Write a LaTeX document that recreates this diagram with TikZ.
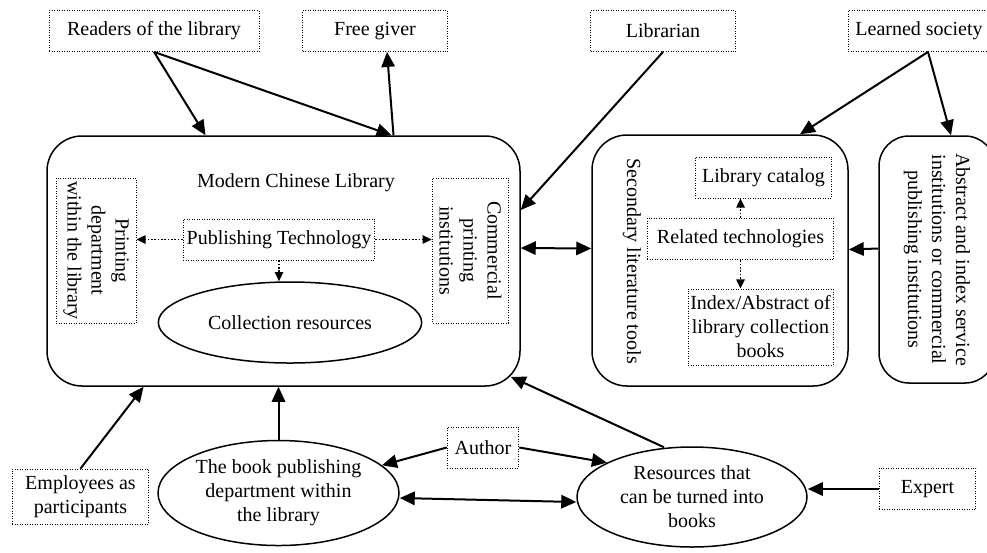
\documentclass[tikz,border=0pt]{standalone}
\usepackage{fontspec}
\setmainfont{Liberation Serif}
\usetikzlibrary{shapes.geometric,arrows.meta,calc}

\begin{document}
\begin{tikzpicture}[x=0.6pt,y=-0.6pt,
  font=\fontsize{12}{14.4}\selectfont,
  dotbox/.style={draw,densely dotted,line width=0.5pt,align=center,inner sep=1pt},
  bigbox/.style={draw,rounded corners=21pt,line width=0.9pt},
  oval/.style={draw,ellipse,line width=0.9pt,align=center,inner sep=0pt},
  arr/.style={line width=1.2pt,-{Triangle[length=9pt,width=8pt]}},
  dblarr/.style={line width=1.2pt,{Triangle[length=9pt,width=8pt]}-{Triangle[length=9pt,width=8pt]}},
  dotarr/.style={densely dotted,line width=1pt,-{Triangle[length=5.5pt,width=5pt]}}]
\useasboundingbox (0,0) rectangle (987,552);

% outside actors
\node[dotbox,minimum width=126pt,minimum height=24.6pt] (readers) at (154,31) {Readers of the library};
\node[dotbox,minimum width=87pt,minimum height=24.6pt] (giver) at (375,31) {Free giver};
\node[dotbox,minimum width=87pt,minimum height=24.6pt] (librarian) at (663,31) {Librarian};
\node[dotbox,minimum width=85pt,minimum height=24.6pt] (society) at (919,31) {Learned society};

% the library
\node[bigbox,minimum width=283.8pt,minimum height=150pt] (lib) at (283.5,261) {};
\node (libname) at (296,183) {Modern Chinese Library};
\node[dotbox,rotate=-90,minimum width=87pt,minimum height=48pt] (prt) at (96,250.5) {Printing\\department\\within the library};
\node[dotbox,rotate=-90,minimum width=87pt,minimum height=46pt] (com) at (470.5,250.5) {Commercial\\printing\\institutions};
\node[dotbox,minimum width=115pt,minimum height=24.6pt] (pub) at (279,239.5) {Publishing Technology};
\node[oval,minimum width=158pt,minimum height=48.6pt] (coll) at (290,322.5) {Collection resources};

% secondary tools
\node[bigbox,minimum width=153.6pt,minimum height=150.6pt] (sec) at (720,260.5) {};
\node[rotate=-90] (seclabel) at (632,261) {Secondary literature tools};
\node[dotbox,minimum width=82pt,minimum height=24.6pt] (cat) at (763.5,177.5) {Library catalog};
\node[dotbox,minimum width=112pt,minimum height=25pt] (rel) at (740.5,239) {Related technologies};
\node[dotbox,minimum width=87pt,minimum height=45.6pt] (idx) at (760.5,327) {Index/Abstract of\\library collection\\books};
\node[bigbox,rounded corners=18pt,rotate=-90,align=center,minimum width=148.2pt,minimum height=69.6pt] (abs) at (937,259.5) {Abstract and index service\\institutions or commercial\\publishing institutions};

% bottom row
\node[dotbox,minimum width=82pt,minimum height=33pt] (emp) at (80.5,496.5) {Employees as\\participants};
\node[oval,minimum width=144.6pt,minimum height=63pt] (book) at (278.5,493) {The book publishing\\department within\\the library};
\node[dotbox,minimum width=43pt,minimum height=24.6pt] (author) at (483,447.5) {Author};
\node[oval,minimum width=138pt,minimum height=60pt] (res) at (692,497) {Resources that\\can be turned into\\books};
\node[dotbox,minimum width=58pt,minimum height=25pt] (expert) at (927.5,489) {Expert};

\draw[arr] (readers.south) -- ($(lib.north)+(-78,0)$);
\draw[arr] (readers.south) -- ($(lib.north)+(108,0)$);
\draw[arr] ($(lib.north)+(110,0)$) -- ($(giver.south)+(12,0)$);
\draw[arr] (librarian.south) -- ($(lib.east)+(0,-51)$);
\draw[arr] ($(society.south)+(9,0)$) -- ($(sec.north)+(80,0)$);
\draw[arr] ($(society.south)+(9,0)$) -- ($(abs.west)+(14,0)$);
\draw[dblarr] ($(lib.east)+(0,-13)$) -- ($(sec.west)+(0,-12)$);
\draw[arr] ($(abs.south)+(0,-11)$) -- ($(sec.east)+(0,-11)$);
\draw[arr] (emp.north) -- ($(lib.south)+(-140,0)$);
\draw[arr] (book.north) -- (book.north |- lib.south);
\draw[arr] ($(res.north)+(-28,1)$) -- ($(lib.south east)+(-10,-10)$);
\draw[arr] (author.west) -- (book.15);
\draw[arr] (author.east) -- (res.158);
\draw[dblarr] ($(book.east)+(0,5)$) -- ($(res.west)+(0,5)$);
\draw[arr] (expert.west) -- (expert.west -| res.east);

% dotted links inside
\draw[dotarr] (pub.west) -- (pub.west -| prt.north);
\draw[dotarr] (pub.east) -- (pub.east -| com.south);
\draw[dotarr] (pub.south) -- (pub.south |- coll.north);
\draw[dotarr] (rel.north) -- (rel.north |- cat.south);
\draw[dotarr] (rel.south) -- (rel.south |- idx.north);
\end{tikzpicture}
\end{document}
